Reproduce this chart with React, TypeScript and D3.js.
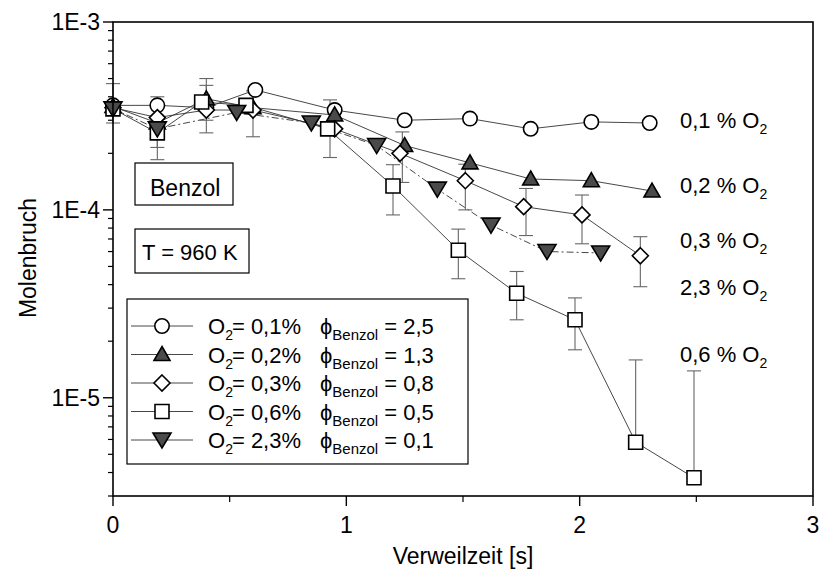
import React from 'react';
import * as d3 from 'd3';

// Verweilzeit [s] and Molenbruch
const tCirc = [0, 0.19, 0.4, 0.61, 0.95, 1.25, 1.53, 1.79, 2.05, 2.3];
const vCirc = [3.6e-4, 3.6e-4, 3.5e-4, 4.35e-4, 3.4e-4, 3.0e-4, 3.06e-4, 2.7e-4, 2.94e-4, 2.9e-4];

const tTriUp = [0, 0.19, 0.4, 0.6, 0.95, 1.25, 1.53, 1.79, 2.05, 2.31];
const vTriUp = [3.55e-4, 2.9e-4, 3.9e-4, 3.5e-4, 3.2e-4, 2.2e-4, 1.78e-4, 1.46e-4, 1.43e-4, 1.26e-4];

const tDiam = [0, 0.19, 0.4, 0.6, 0.95, 1.23, 1.51, 1.76, 2.01, 2.26];
const vDiam = [3.5e-4, 3.1e-4, 3.4e-4, 3.4e-4, 2.7e-4, 2.0e-4, 1.43e-4, 1.04e-4, 9.4e-5, 5.7e-5];

const tSq = [0, 0.19, 0.38, 0.57, 0.92, 1.2, 1.48, 1.73, 1.98, 2.24, 2.49];
const vSq = [3.45e-4, 2.57e-4, 3.75e-4, 3.6e-4, 2.7e-4, 1.34e-4, 6.1e-5, 3.6e-5, 2.6e-5, 5.8e-6, 3.75e-6];

const tTriDn = [0, 0.19, 0.53, 0.85, 1.13, 1.39, 1.62, 1.86, 2.09];
const vTriDn = [3.45e-4, 2.7e-4, 3.3e-4, 2.9e-4, 2.2e-4, 1.29e-4, 8.3e-5, 6.0e-5, 5.9e-5];

// error bars: t, low (null = none), high, and the point they hang from
const errT = [0, 0.19, 0.19, 0.4, 0.4, 0.6, 0.93, 1.2, 1.24, 1.48, 1.51, 1.73, 1.77, 1.98, 2.01, 2.24, 2.26, 2.49];
const errLo = [2.9e-4, 2.15e-4, 1.85e-4, 2.57e-4, 3.0e-4, 2.45e-4, 1.9e-4, 9.4e-5, 1.4e-4, 4.3e-5, 1.0e-4, 2.6e-5, 7.3e-5, 1.8e-5, 6.6e-5, null, 3.9e-5, null];
const errHi = [4.7e-4, 4.0e-4, 2.57e-4, 5.0e-4, 4.6e-4, 4.3e-4, 3.85e-4, 1.74e-4, 2.6e-4, 7.9e-5, 1.75e-4, 4.7e-5, 1.3e-4, 3.4e-5, 1.2e-4, 1.59e-5, 7.2e-5, 1.39e-5];
const errBase = [3.5e-4, 3.6e-4, 2.57e-4, 3.9e-4, 3.5e-4, 3.5e-4, 2.7e-4, 1.34e-4, 2.0e-4, 6.1e-5, 1.43e-4, 3.6e-5, 1.04e-4, 2.6e-5, 9.4e-5, 5.8e-6, 5.7e-5, 3.75e-6];

const legendO2 = ['0,1%', '0,2%', '0,3%', '0,6%', '2,3%'];
const legendPhi = ['2,5', '1,3', '0,8', '0,5', '0,1'];
const sideLabels = ['0,1', '0,2', '0,3', '2,3', '0,6'];
const sideLabelVal = [3.0e-4, 1.35e-4, 6.9e-5, 3.9e-5, 1.7e-5];

const xTicks = [0, 1, 2, 3];
const xMinor = [0.5, 1.5, 2.5];
const yMajor = [1e-3, 1e-4, 1e-5];

const series = [
  { t: tCirc, v: vCirc, shape: 'circle', dash: null },
  { t: tTriUp, v: vTriUp, shape: 'triUp', dash: null },
  { t: tDiam, v: vDiam, shape: 'diamond', dash: null },
  { t: tSq, v: vSq, shape: 'square', dash: null },
  { t: tTriDn, v: vTriDn, shape: 'triDn', dash: '7,3,2,3' },
];

const FONT = '"Liberation Sans", Arial, sans-serif';

function markerPath(shape: string): string {
  switch (shape) {
    case 'triUp': return 'M0,-8L8,6L-8,6Z';
    case 'triDn': return 'M-9,-7L9,-7L0,8Z';
    case 'diamond': return 'M0,-8L8,0L0,8L-8,0Z';
    case 'square': return 'M-7,-7H7V7H-7Z';
    default: return 'M7.2,0A7.2,7.2 0 1,1 -7.2,0A7.2,7.2 0 1,1 7.2,0Z';
  }
}

function Marker({ shape, x, y }: { shape: string; x: number; y: number }) {
  const filled = shape === 'triUp' || shape === 'triDn';
  return (
    <path
      d={markerPath(shape)}
      transform={`translate(${x},${y})`}
      fill={filled ? '#4a4a4a' : '#fff'}
      stroke="#000"
      strokeWidth={1.6}
    />
  );
}

export default function App() {
  const x = d3.scaleLinear().domain([0, 3]).range([113, 813]);
  const y = d3.scaleLog().domain([3e-6, 1e-3]).range([496, 22]);
  const yMinor = y.ticks().filter(v => !yMajor.some(m => Math.abs(m - v) / m < 1e-6));

  const line = d3.line<[number, number]>().x(d => x(d[0])).y(d => y(d[1]));

  return (
    <svg width={822} height={572} style={{ position: 'absolute', left: 0, top: 0, background: '#fff' }} fontFamily={FONT}>
      {/* connecting lines */}
      {series.map((s, i) => (
        <path
          key={'l' + i}
          d={line(s.t.map((t, j) => [t, s.v[j]] as [number, number])) || ''}
          fill="none"
          stroke="#333"
          strokeWidth={0.9}
          strokeDasharray={s.dash || undefined}
        />
      ))}

      {/* error bars */}
      {errT.map((t, i) => {
        const cx = x(t);
        const lo = errLo[i];
        const top = y(errHi[i]);
        const bot = lo == null ? y(errBase[i]) : y(lo);
        return (
          <g key={'e' + i} stroke="#666" strokeWidth={1.1}>
            <line x1={cx} x2={cx} y1={top} y2={bot} />
            <line x1={cx - 7} x2={cx + 7} y1={top} y2={top} />
            {lo != null && <line x1={cx - 7} x2={cx + 7} y1={bot} y2={bot} />}
          </g>
        );
      })}

      {/* markers */}
      {series.map((s, i) => (
        <g key={'m' + i}>
          {s.t.map((t, j) => (
            <Marker key={j} shape={s.shape} x={x(t)} y={y(s.v[j])} />
          ))}
        </g>
      ))}

      {/* frame */}
      <rect x={113} y={22} width={700} height={474} fill="none" stroke="#000" strokeWidth={1.6} />

      {/* y axis ticks */}
      {yMajor.map(v => (
        <g key={'ym' + v}>
          <line x1={103} x2={113} y1={y(v)} y2={y(v)} stroke="#000" strokeWidth={1.4} />
          <text x={100} y={y(v) + 8} fontSize={23} textAnchor="end">{'1E' + Math.round(Math.log10(v))}</text>
        </g>
      ))}
      {yMinor.map(v => (
        <line key={'yn' + v} x1={108} x2={113} y1={y(v)} y2={y(v)} stroke="#000" strokeWidth={1.2} />
      ))}

      {/* x axis ticks */}
      {xTicks.map(v => (
        <g key={'xm' + v}>
          <line x1={x(v)} x2={x(v)} y1={496} y2={506} stroke="#000" strokeWidth={1.4} />
          <text x={x(v)} y={533} fontSize={23} textAnchor="middle">{v}</text>
        </g>
      ))}
      {xMinor.map(v => (
        <line key={'xn' + v} x1={x(v)} x2={x(v)} y1={496} y2={502} stroke="#000" strokeWidth={1.2} />
      ))}

      {/* axis titles */}
      <text x={463} y={564} fontSize={23} textAnchor="middle">Verweilzeit [s]</text>
      <text transform="translate(36,258) rotate(-90)" fontSize={23} textAnchor="middle">Molenbruch</text>

      {/* boxes */}
      <rect x={135} y={163} width={98} height={42} fill="#fff" stroke="#000" strokeWidth={1.2} />
      <text x={150} y={196} fontSize={23}>Benzol</text>
      <rect x={135} y={229} width={114} height={44} fill="#fff" stroke="#000" strokeWidth={1.2} />
      <text x={142} y={260} fontSize={22}>T = 960 K</text>

      {/* legend */}
      <rect x={127} y={299} width={341} height={165} fill="#fff" stroke="#000" strokeWidth={1.2} />
      {series.map((s, i) => {
        const ry = 326 + i * 28.5;
        return (
          <g key={'lg' + i}>
            <line x1={131} x2={193} y1={ry} y2={ry} stroke="#333" strokeWidth={0.9} />
            <Marker shape={s.shape} x={162} y={ry} />
            <text x={208} y={ry + 8} fontSize={22}>
              O<tspan fontSize={14} dy={6}>2</tspan>
              <tspan dy={-6} dx={-1}>{'= ' + legendO2[i]}</tspan>
              <tspan x={320}>{'\u03D5'}</tspan>
              <tspan fontSize={15} dy={6}>Benzol</tspan>
              <tspan dy={-6}>{' = ' + legendPhi[i]}</tspan>
            </text>
          </g>
        );
      })}

      {/* right-hand labels */}
      {sideLabels.map((l, i) => (
        <text key={'sl' + i} x={680} y={y(sideLabelVal[i]) + 8} fontSize={22}>
          {l + ' % O'}
          <tspan fontSize={14} dy={6}>2</tspan>
        </text>
      ))}
    </svg>
  );
}
